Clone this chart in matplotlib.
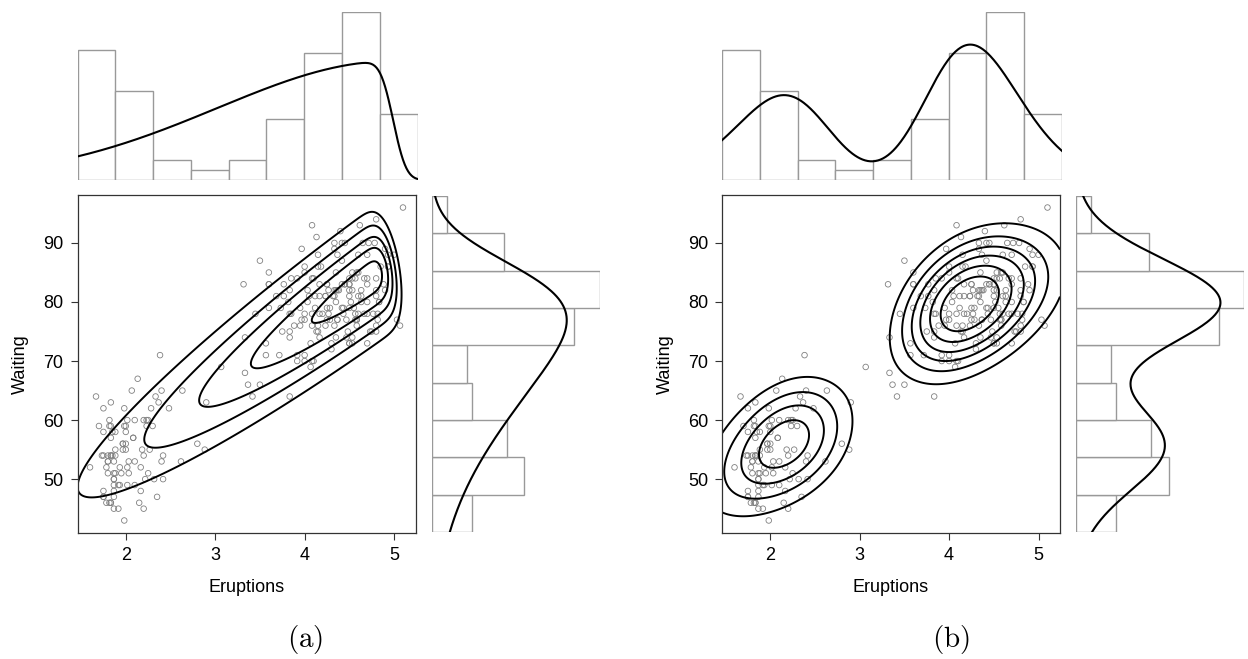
import math
import numpy as np
import matplotlib
matplotlib.use("Agg")
import matplotlib.pyplot as plt

plt.rcParams['font.family'] = ['Liberation Sans', 'DejaVu Sans']
plt.rcParams['mathtext.fontset'] = 'cm'

# Old Faithful geyser: eruption time (min) and waiting time (min)
eruptions = [
    3.600, 1.800, 3.333, 2.283, 4.533, 2.883, 4.700, 3.600, 1.950, 4.350,
    1.833, 3.917, 4.200, 1.750, 4.700, 2.167, 1.750, 4.800, 1.600, 4.250,
    1.800, 1.750, 3.450, 3.067, 4.533, 3.600, 1.967, 4.083, 3.850, 4.433,
    4.300, 4.467, 3.367, 4.033, 3.833, 2.017, 1.867, 4.833, 1.833, 4.783,
    4.350, 1.883, 4.567, 1.750, 4.533, 3.317, 3.833, 2.100, 4.633, 2.000,
    4.800, 4.716, 1.833, 4.833, 1.733, 4.883, 3.717, 1.667, 4.567, 4.317,
    2.233, 4.500, 1.750, 4.800, 1.817, 4.400, 4.167, 4.700, 2.067, 4.700,
    4.033, 1.967, 4.500, 4.000, 1.983, 5.067, 2.017, 4.567, 3.883, 3.600,
    4.133, 4.333, 4.100, 2.633, 4.067, 4.933, 3.950, 4.517, 2.167, 4.000,
    2.200, 4.333, 1.867, 4.817, 1.833, 4.300, 4.667, 3.750, 1.867, 4.900,
    2.483, 4.367, 2.100, 4.500, 4.050, 1.867, 4.700, 1.783, 4.850, 3.683,
    4.733, 2.300, 4.900, 4.417, 1.700, 4.633, 2.317, 4.600, 1.817, 4.417,
    2.617, 4.067, 4.250, 1.967, 4.600, 3.767, 1.917, 4.500, 2.267, 4.650,
    1.867, 4.167, 2.800, 4.333, 1.833, 4.383, 1.883, 4.933, 2.033, 3.733,
    4.233, 2.233, 4.533, 4.817, 4.333, 1.983, 4.633, 2.017, 5.100, 1.800,
    5.033, 4.000, 2.400, 4.600, 3.567, 4.000, 4.500, 4.083, 1.800, 3.967,
    2.200, 4.150, 2.000, 3.833, 3.500, 4.583, 2.367, 5.000, 1.933, 4.617,
    1.917, 2.083, 4.583, 3.333, 4.167, 4.333, 4.500, 2.417, 4.000, 4.167,
    1.883, 4.583, 4.250, 3.767, 2.033, 4.433, 4.083, 1.833, 4.417, 2.183,
    4.800, 1.833, 4.800, 4.100, 3.966, 4.233, 3.500, 4.366, 2.250, 4.667,
    2.100, 4.350, 4.133, 1.867, 4.600, 1.783, 4.367, 3.850, 1.933, 4.500,
    2.383, 4.700, 1.867, 3.833, 3.417, 4.233, 2.400, 4.800, 2.000, 4.150,
    1.867, 4.267, 1.750, 4.483, 4.000, 4.117, 4.083, 4.267, 3.917, 4.550,
    4.083, 2.417, 4.183, 2.217, 4.450, 1.883, 1.850, 4.283, 3.950, 2.333,
    4.150, 2.350, 4.933, 2.900, 4.583, 3.833, 2.083, 4.367, 2.133, 4.350,
    2.200, 4.450, 3.567, 4.500, 4.150, 3.817, 3.917, 4.450, 2.000, 4.283,
    4.767, 4.533, 1.850, 4.250, 1.983, 2.250, 4.750, 4.117, 2.150, 4.417,
    1.817, 4.467,
]
waiting = [
    79, 54, 74, 62, 85, 55, 88, 85, 51, 85,
    54, 84, 78, 47, 83, 52, 62, 84, 52, 79,
    51, 47, 78, 69, 74, 83, 55, 76, 78, 79,
    73, 77, 66, 80, 74, 52, 48, 80, 59, 90,
    80, 58, 84, 58, 73, 83, 64, 53, 82, 59,
    75, 90, 54, 80, 54, 83, 71, 64, 77, 81,
    59, 84, 48, 82, 60, 92, 78, 78, 65, 73,
    82, 56, 79, 71, 62, 76, 60, 78, 76, 83,
    75, 82, 70, 65, 73, 88, 76, 80, 48, 86,
    60, 90, 50, 78, 63, 72, 84, 75, 51, 82,
    62, 88, 49, 83, 81, 47, 84, 52, 86, 81,
    75, 59, 89, 79, 59, 81, 50, 85, 59, 87,
    53, 69, 77, 56, 88, 81, 45, 82, 55, 90,
    45, 83, 56, 89, 46, 82, 51, 86, 53, 79,
    81, 60, 82, 77, 76, 59, 80, 49, 96, 53,
    77, 77, 65, 81, 71, 70, 81, 93, 53, 89,
    45, 86, 58, 78, 66, 76, 63, 88, 52, 93,
    49, 57, 77, 68, 81, 81, 73, 50, 85, 74,
    55, 77, 83, 83, 51, 78, 84, 46, 83, 55,
    81, 57, 76, 84, 77, 81, 87, 77, 51, 78,
    60, 82, 91, 53, 78, 46, 77, 84, 49, 83,
    71, 80, 49, 75, 64, 76, 53, 94, 55, 76,
    50, 82, 54, 75, 78, 79, 78, 78, 70, 79,
    70, 54, 86, 50, 90, 54, 54, 77, 79, 64,
    75, 47, 86, 63, 85, 82, 57, 82, 67, 74,
    54, 83, 73, 73, 88, 80, 71, 83, 56, 79,
    78, 84, 58, 83, 43, 60, 75, 81, 46, 90,
    46, 74,
]

x_lim = (1.46, 5.24)
y_lim = (40.88, 98.12)
x_ticks = [2, 3, 4, 5]
y_ticks = [50, 60, 70, 80, 90]
n_bins = 9

# (a) one bivariate skew-normal
a_weights = [1.0]
a_xi = [[4.97, 86.5]]
a_omega = [[1.95, 22.0]]
a_rho = [0.955]
a_alpha = [[-20.0, -3.0]]
a_levels = [0.20, 0.37, 0.55, 0.73, 0.91]   # fraction of the peak

# (b) two-component skew-normal mixture
b_weights = [0.385, 0.615]
b_xi = [[2.54, 60.1], [3.83, 78.2]]
b_omega = [[0.72, 9.2], [0.72, 7.6]]
b_rho = [0.65, 0.45]
b_alpha = [[-1.27, -0.56], [1.59, -0.17]]
b_levels = [0.18, 0.30, 0.42, 0.54, 0.68, 0.82]

Phi = np.vectorize(lambda t: 0.5 * (1.0 + math.erf(t / math.sqrt(2.0))))


def sn2_pdf(X, Y, xi, om, rho, al):
    zx = (X - xi[0]) / om[0]
    zy = (Y - xi[1]) / om[1]
    q = (zx ** 2 - 2 * rho * zx * zy + zy ** 2) / (1 - rho ** 2)
    phi2 = np.exp(-q / 2) / (2 * np.pi * np.sqrt(1 - rho ** 2))
    return 2 * phi2 * Phi(al[0] * zx + al[1] * zy) / (om[0] * om[1])


def sn1_pdf(t, xi, om, lam):
    z = (t - xi) / om
    return 2 / om * np.exp(-z ** 2 / 2) / np.sqrt(2 * np.pi) * Phi(lam * z)


def marginal_shapes(rho, al):
    # skewness parameters of the two univariate marginals
    R = np.array([[1, rho], [rho, 1]])
    al = np.array(al)
    d = R @ al / np.sqrt(1 + al @ R @ al)
    return d / np.sqrt(1 - d ** 2)


def mixture(weights, xi, om, rho, al):
    gx = np.linspace(x_lim[0], x_lim[1], 400)
    gy = np.linspace(y_lim[0], y_lim[1], 400)
    X, Y = np.meshgrid(gx, gy)
    Z = np.zeros_like(X)
    fx = np.zeros_like(gx)
    fy = np.zeros_like(gy)
    for k in range(len(weights)):
        Z += weights[k] * sn2_pdf(X, Y, xi[k], om[k], rho[k], al[k])
        lam = marginal_shapes(rho[k], al[k])
        fx += weights[k] * sn1_pdf(gx, xi[k][0], om[k][0], lam[0])
        fy += weights[k] * sn1_pdf(gy, xi[k][1], om[k][1], lam[1])
    return gx, gy, Z, fx, fy


W, H = 1248, 659
fig = plt.figure(figsize=(W / 100, H / 100), dpi=100)
N = len(eruptions)
counts_x, _ = np.histogram(eruptions, bins=n_bins)
counts_y, _ = np.histogram(waiting, bins=n_bins)
# density -> counts per bar, bars spread over the full axis span
scale_x = N * (x_lim[1] - x_lim[0]) / n_bins
scale_y = N * (y_lim[1] - y_lim[0]) / n_bins


def box(l, t, r, b):
    return [l / W, 1 - b / H, (r - l) / W, (b - t) / H]


def panel(x0, model, levels, tag, tag_x):
    gx, gy, Z, fx, fy = mixture(*model)

    ax = fig.add_axes(box(x0, 195, x0 + 338, 533))
    ax.scatter(eruptions, waiting, s=16, facecolors='none',
               edgecolors='#808080', linewidths=0.6)
    ax.contour(gx, gy, Z, levels=[f * Z.max() for f in levels],
               colors='black', linewidths=1.4)
    ax.set_xlim(x_lim)
    ax.set_ylim(y_lim)
    ax.set_xticks(x_ticks)
    ax.set_yticks(y_ticks)
    ax.tick_params(direction='out', length=5, width=0.8, colors='#333333',
                   labelsize=13, pad=5, labelcolor='black')
    for s in ax.spines.values():
        s.set_color('#333333')
        s.set_linewidth(0.9)

    top = fig.add_axes(box(x0, 12, x0 + 340, 180))
    top.bar(np.arange(n_bins), counts_x, width=1, align='edge',
            color='white', edgecolor='#999999', linewidth=1.0)
    top.set_xlim(0, n_bins)
    top.set_ylim(0, counts_x.max())
    top.axis('off')
    top_c = top.twiny()
    top_c.plot(gx, fx * scale_x, color='black', lw=1.5)
    top_c.set_xlim(x_lim)
    top_c.axis('off')

    side = fig.add_axes(box(x0 + 354, 196, x0 + 522, 532))
    side.barh(np.arange(n_bins), counts_y, height=1, align='edge',
              color='white', edgecolor='#999999', linewidth=1.0)
    side.set_ylim(0, n_bins)
    side.set_xlim(0, counts_y.max())
    side.axis('off')
    side_c = side.twinx()
    side_c.plot(fy * scale_y, gy, color='black', lw=1.5)
    side_c.set_ylim(y_lim)
    side_c.axis('off')

    fig.text((x0 + 169) / W, 1 - 588 / H, 'Eruptions', ha='center',
             va='center', fontsize=13)
    fig.text((x0 - 57) / W, 1 - 364 / H, 'Waiting', ha='center',
             va='center', rotation=90, fontsize=13)
    fig.text(tag_x / W, 1 - 640 / H, tag, ha='center', va='center',
             fontsize=21)


panel(77.5, (a_weights, a_xi, a_omega, a_rho, a_alpha), a_levels,
      r'$\mathrm{(a)}$', 305)
panel(722, (b_weights, b_xi, b_omega, b_rho, b_alpha), b_levels,
      r'$\mathrm{(b)}$', 951)

fig.savefig('out.png', dpi=100)
